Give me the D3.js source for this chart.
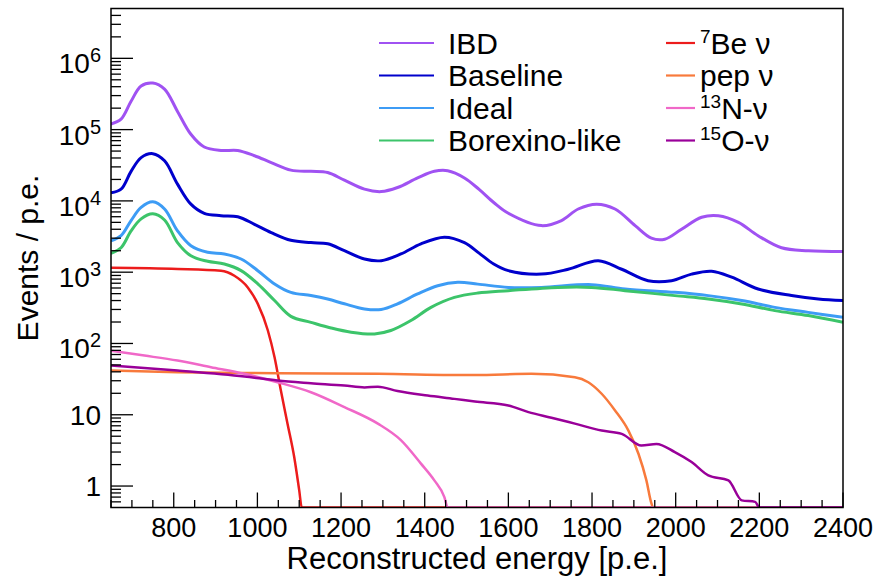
<!DOCTYPE html>
<html>
<head>
<meta charset="utf-8">
<script src="https://cdn.jsdelivr.net/npm/d3@7"></script>
<style>
  body { margin: 0; background: #fff; }
  text { font-family: "Liberation Sans", Arial, Helvetica, sans-serif; fill: #000; }
</style>
</head>
<body>
<div id="chart"></div>
<script>
// spectra: [reconstructed energy (p.e.), events / p.e.]
// a value of 0 means an empty bin, drawn on the bottom of the frame
var ibd = [[650,1.2e5],[674,1.4e5],[698,2.5e5],[722,4.1e5],[750,4.5e5],[778,3.7e5],[809,1.8e5],[841,8.6e4],
  [873,5.7e4],[913,5.1e4],[953,5.1e4],[993,4.3e4],[1033,3.45e4],[1080,2.7e4],[1128,2.6e4],[1168,2.5e4],
  [1208,1.95e4],[1256,1.46e4],[1296,1.35e4],[1335,1.54e4],[1383,2.1e4],[1423,2.6e4],[1455,2.65e4],
  [1495,2.1e4],[1530,1.45e4],[1565,9.5e3],[1600,6.7e3],[1679,4.5e3],[1727,5.3e3],[1767,7.7e3],[1811,9.0e3],
  [1855,7.7e3],[1903,4.5e3],[1942,3.0e3],[1974,2.9e3],[2014,4.0e3],[2062,5.9e3],[2102,6.2e3],[2150,5.0e3],
  [2197,3.25e3],[2253,2.2e3],[2317,2.0e3],[2400,1.95e3]];
var baseline = [[650,1.3e4],[674,1.46e4],[698,2.6e4],[722,4.05e4],[750,4.6e4],[778,3.65e4],[809,1.72e4],
  [841,9.0e3],[873,6.7e3],[913,6.2e3],[953,6.0e3],[993,4.7e3],[1033,3.6e3],[1080,2.8e3],[1128,2.6e3],
  [1168,2.5e3],[1208,2.0e3],[1256,1.53e3],[1296,1.45e3],[1343,1.8e3],[1391,2.5e3],[1447,3.1e3],[1495,2.6e3],
  [1530,1.85e3],[1565,1.3e3],[1600,1.05e3],[1679,940],[1743,1.1e3],[1815,1.45e3],[1871,1.1e3],[1934,760],
  [1990,760],[2038,940],[2086,1.03e3],[2134,850],[2197,580],[2277,470],[2341,420],[2400,400]];
var ideal = [[650,2.75e3],[674,3.25e3],[698,5.3e3],[722,8.1e3],[750,9.7e3],[778,7.7e3],[809,3.8e3],
  [841,2.35e3],[881,1.9e3],[921,1.8e3],[961,1.53e3],[1001,1.05e3],[1041,685],[1080,520],[1128,470],
  [1168,420],[1208,360],[1256,305],[1296,300],[1335,360],[1383,495],[1431,645],[1479,720],[1527,680],
  [1600,612],[1679,612],[1799,668],[1879,582],[1998,521],[2078,469],[2158,400],[2237,321],[2317,273],[2400,233]];
var borexino = [[650,1.83e3],[674,2.2e3],[698,3.8e3],[722,5.6e3],[750,6.6e3],[778,5.4e3],[809,2.6e3],
  [841,1.7e3],[881,1.42e3],[921,1.3e3],[961,1.05e3],[1001,684],[1041,400],[1080,240],[1128,198],[1176,165],
  [1224,144],[1280,136],[1319,152],[1367,210],[1415,321],[1471,443],[1527,510],[1600,551],[1719,612],
  [1799,612],[1879,551],[1998,469],[2078,422],[2158,359],[2237,289],[2317,246],[2400,198]];
var be7 = [[650,1150],[809,1110],[913,1050],[945,893],[977,612],[1001,359],[1025,152],[1041,64],[1056,22],
  [1072,7.5],[1088,2.55],[1100,0.87],[1106,0],[2400,0]];
var pep = [[650,41.7],[809,39.5],[1048,38.3],[1288,37.5],[1520,36],[1655,37.5],[1759,33.6],[1791,28.6],
  [1823,19.7],[1855,11.5],[1887,6.0],[1911,2.84],[1930,1.2],[1942,0.57],[1946,0],[2400,0]];
var n13 = [[650,79],[730,67.6],[809,57.5],[889,46.5],[969,37.5],[1048,28.6],[1128,20.7],[1208,12.8],
  [1288,7.5],[1343,4.4],[1391,2.06],[1423,1.2],[1447,0.7],[1455,0],[2400,0]];
var o15 = [[650,49],[809,41.7],[969,34.4],[1048,30.2],[1128,27.7],[1208,25.7],[1256,24.2],[1288,24.8],
  [1335,21.5],[1407,18.6],[1471,16.7],[1520,15.3],[1600,13.5],[1648,10.9],[1703,9.1],[1759,7.5],[1823,6.0],
  [1871,5.4],[1918,3.7],[1954,3.9],[1998,3.0],[2038,2.17],[2078,1.41],[2126,1.2],[2158,0.63],[2190,0.6],
  [2200,0],[2400,0]];

var xTicks = [800, 1000, 1200, 1400, 1600, 1800, 2000, 2200, 2400];
var yDecades = [1, 10, 100, 1e3, 1e4, 1e5, 1e6];

// series, legend text and colours (legend order)
var series = [
  {name: "IBD", data: ibd, color: "#a052f2", width: 3, smooth: true},
  {name: "Baseline", data: baseline, color: "#0000cc", width: 3, smooth: true},
  {name: "Ideal", data: ideal, color: "#3d9cf5", width: 3, smooth: true},
  {name: "Borexino-like", data: borexino, color: "#3cc46a", width: 3, smooth: true},
  {name: "Be ν", sup: "7", data: be7, color: "#ec1c1c", width: 2.5},
  {name: "pep ν", data: pep, color: "#f87a3c", width: 2.5},
  {name: "N-ν", sup: "13", data: n13, color: "#f068c8", width: 2.5},
  {name: "O-ν", sup: "15", data: o15, color: "#990099", width: 2.5}
];

function drawChart() {
  var width = 879, height = 578;
  //plot frame in pixels
  var fx0 = 111, fx1 = 843, fy0 = 8.5, fy1 = 507.5;

  var svg = d3.select("#chart").append("svg")
    .attr("width", width)
    .attr("height", height);

  var x = d3.scaleLinear().domain([650, 2400]).range([fx0, fx1]);
  var yMin = 0.5;
  var y = d3.scaleLog().domain([yMin, 5e6]).range([fy1, fy0]);

  svg.append("clipPath").attr("id", "plot")
    .append("rect")
    .attr("x", fx0).attr("y", fy0)
    .attr("width", fx1 - fx0).attr("height", fy1 - fy0);

  //empty bins go to the floor of the frame, like ROOT does on a log axis
  var smoothLine = d3.line()
    .x(d => x(d[0]))
    .y(d => y(Math.max(d[1], yMin)))
    .curve(d3.curveCatmullRom.alpha(0.5));
  var stepLine = d3.line()
    .x(d => x(d[0]))
    .y(d => y(Math.max(d[1], yMin)))
    .curve(d3.curveMonotoneX);

  svg.append("g").attr("clip-path", "url(#plot)")
    .selectAll("path")
    .data(series)
    .enter().append("path")
      .attr("d", d => d.smooth ? smoothLine(d.data) : stepLine(d.data))
      .attr("fill", "none")
      .attr("stroke", d => d.color)
      .attr("stroke-width", d => d.width)
      .attr("stroke-linejoin", "round");

  //x axis: majors every 200, minors every 50, labels below
  var xAxis = svg.append("g");
  xAxis.selectAll("line")
    .data(d3.range(650, 2401, 50))
    .enter().append("line")
      .attr("x1", d => x(d)).attr("x2", d => x(d))
      .attr("y1", fy1)
      .attr("y2", d => fy1 - (d % 200 === 0 ? 15 : 7.5))
      .attr("stroke", "#000").attr("stroke-width", 1.3);
  xAxis.selectAll("text")
    .data(xTicks)
    .enter().append("text")
      .attr("x", d => x(d))
      .attr("y", 537)
      .attr("text-anchor", "middle")
      .attr("font-size", 27)
      .text(d => d);

  //y axis: log ticks, decade labels written as 10^n
  var minors = [];
  [0.1, 1, 10, 100, 1e3, 1e4, 1e5, 1e6].forEach(dec => {
    for (var k = 2; k <= 9; k++) {
      var v = k * dec;
      if (v > yMin && v < 5e6) minors.push(v);
    }
  });
  var yAxis = svg.append("g");
  yAxis.selectAll("line.minor")
    .data(minors)
    .enter().append("line")
      .attr("class", "minor")
      .attr("x1", fx0).attr("x2", fx0 + 10)
      .attr("y1", d => y(d)).attr("y2", d => y(d))
      .attr("stroke", "#000").attr("stroke-width", 1.3);
  yAxis.selectAll("line.major")
    .data(yDecades)
    .enter().append("line")
      .attr("class", "major")
      .attr("x1", fx0).attr("x2", fx0 + 22)
      .attr("y1", d => y(d)).attr("y2", d => y(d))
      .attr("stroke", "#000").attr("stroke-width", 1.3);

  var yLabel = yAxis.selectAll("text")
    .data(yDecades)
    .enter().append("text")
      .attr("x", 101)
      .attr("text-anchor", "end")
      .attr("font-size", 28);
  yLabel.each(function(d) {
    var t = d3.select(this);
    var e = Math.round(Math.log10(d));
    if (e < 2) {
      t.attr("y", y(d) + 10).text(d);
    } else {
      t.attr("y", y(d) + 15);
      t.append("tspan").text("10");
      t.append("tspan").attr("font-size", 20).attr("dy", -11).text(e);
    }
  });

  //frame
  svg.append("rect")
    .attr("x", fx0).attr("y", fy0)
    .attr("width", fx1 - fx0).attr("height", fy1 - fy0)
    .attr("fill", "none").attr("stroke", "#000").attr("stroke-width", 1.5);

  //axis titles
  svg.append("text")
    .attr("x", (fx0 + fx1) / 2).attr("y", 569)
    .attr("text-anchor", "middle").attr("font-size", 31)
    .text("Reconstructed energy [p.e.]");
  svg.append("text")
    .attr("transform", "translate(38," + ((fy0 + fy1) / 2) + ") rotate(-90)")
    .attr("text-anchor", "middle").attr("font-size", 30)
    .text("Events / p.e.");

  //legend, two columns of four
  var rowY = i => 43 + (i % 4) * 32.5;
  var entry = svg.append("g").selectAll("g")
    .data(series)
    .enter().append("g")
      .attr("transform", (d, i) => "translate(" + (i < 4 ? 379 : 666) + "," + rowY(i) + ")");
  entry.append("line")
    .attr("x1", 0).attr("x2", (d, i) => i < 4 ? 55 : 29)
    .attr("stroke", d => d.color).attr("stroke-width", 2.2);
  var label = entry.append("text")
    .attr("x", (d, i) => i < 4 ? 69 : 34)
    .attr("y", 10.5)
    .attr("font-size", 30);
  label.each(function(d) {
    var t = d3.select(this);
    if (d.sup) {
      t.append("tspan").attr("font-size", 19).attr("dy", -11).text(d.sup);
      t.append("tspan").attr("dy", 11).text(d.name);
    } else {
      t.text(d.name);
    }
  });
}

drawChart();
</script>
</body>
</html>
